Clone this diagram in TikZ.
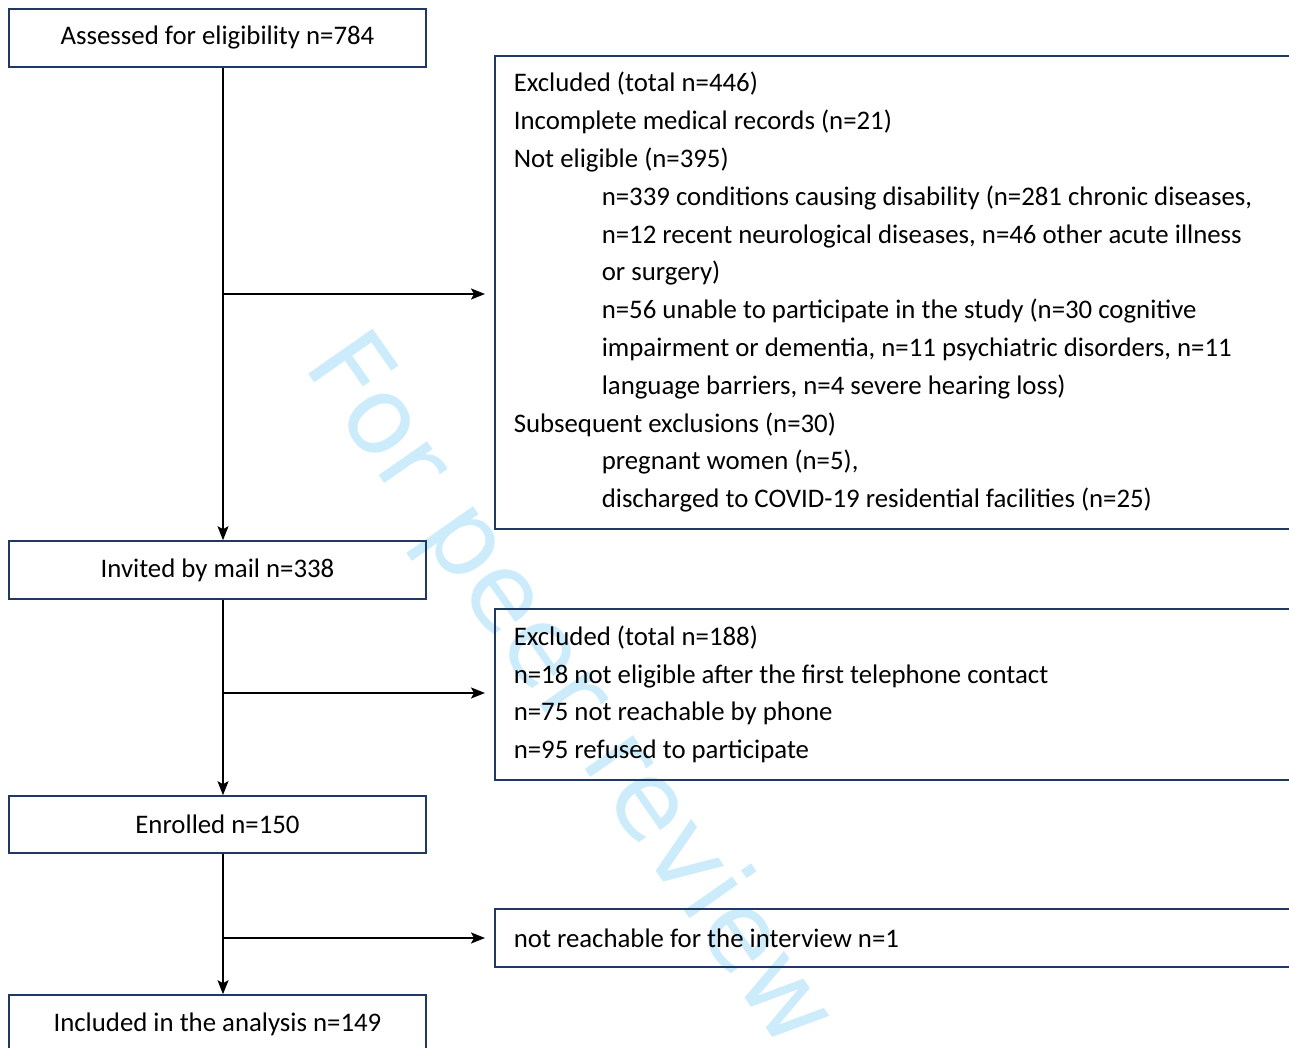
\documentclass[tikz,border=0pt]{standalone}
\usepackage{fontspec}
\setmainfont{Carlito}
\newfontfamily\markfont{DejaVu Sans}
\usetikzlibrary{arrows.meta}
\definecolor{boxblue}{RGB}{31,56,100}
\definecolor{markblue}{RGB}{205,236,251}
\newcommand{\exclindent}{\hspace*{88pt}}

\begin{document}
\begin{tikzpicture}[x=1pt, y=-1pt,
  flowbox/.style={draw=boxblue, line width=1.6pt, minimum width=417pt, minimum height=58pt, inner sep=0pt, font=\fontsize{26.8}{37.8}\selectfont},
  sidebox/.style={draw=boxblue, line width=1.6pt, anchor=north west, align=flush left, text width=830pt, inner xsep=19pt, inner ysep=0pt, font=\fontsize{26.8}{37.8}\selectfont},
  flowarrow/.style={black, line width=1.6pt, -{Stealth[length=14pt, width=11pt, inset=3pt]}}]

% Page size, and cut off whatever runs past the right edge
\useasboundingbox (0,0) rectangle (1289,1048);
\clip (0,0) rectangle (1289,1048);

% Watermark behind everything
\node[text=markblue, font=\markfont\fontsize{108}{108}\selectfont, rotate=-55] (mark) at (568,693) {For peer review};

% Main column
\node[flowbox] (assessed) at (217.5,38) {Assessed for eligibility n=784};
\node[flowbox] (invited) at (217.5,570) {Invited by mail n=338};
\node[flowbox, minimum height=57pt] (enrolled) at (217.5,824.5) {Enrolled n=150};
\node[flowbox] (included) at (217.5,1024) {Included in the analysis n=149};

% Exclusion boxes
\node[sidebox, minimum height=473pt] (excl1) at (494,55) {Excluded (total n=446)\\
Incomplete medical records (n=21)\\
Not eligible (n=395)\\
\exclindent n=339 conditions causing disability (n=281 chronic diseases,\\
\exclindent n=12 recent neurological diseases, n=46 other acute illness\\
\exclindent or surgery)\\
\exclindent n=56 unable to participate in the study (n=30 cognitive\\
\exclindent impairment or dementia, n=11 psychiatric disorders, n=11\\
\exclindent language barriers, n=4 severe hearing loss)\\
Subsequent exclusions (n=30)\\
\exclindent pregnant women (n=5),\\
\exclindent discharged to COVID-19 residential facilities (n=25)};
\node[sidebox, minimum height=171pt] (excl2) at (494,608) {Excluded (total n=188)\\
n=18 not eligible after the first telephone contact\\
n=75 not reachable by phone\\
n=95 refused to participate};
\node[sidebox, minimum height=58pt] (excl3) at (494,908) {not reachable for the interview n=1};

% Spine and branch points
\coordinate (spine) at (223,0);
\coordinate (branch1) at (223,294);
\coordinate (branch2) at (223,693);
\coordinate (branch3) at (223,938);

% Arrows down the column
\draw[flowarrow] (assessed.south -| spine) -- (invited.north -| spine);
\draw[flowarrow] (invited.south -| spine) -- (enrolled.north -| spine);
\draw[flowarrow] (enrolled.south -| spine) -- (included.north -| spine);

% Arrows to the exclusions
\draw[flowarrow, shorten >=9pt] (branch1) -- (branch1 -| excl1.west);
\draw[flowarrow, shorten >=9pt] (branch2) -- (branch2 -| excl2.west);
\draw[flowarrow, shorten >=9pt] (branch3) -- (branch3 -| excl3.west);
\end{tikzpicture}
\end{document}
